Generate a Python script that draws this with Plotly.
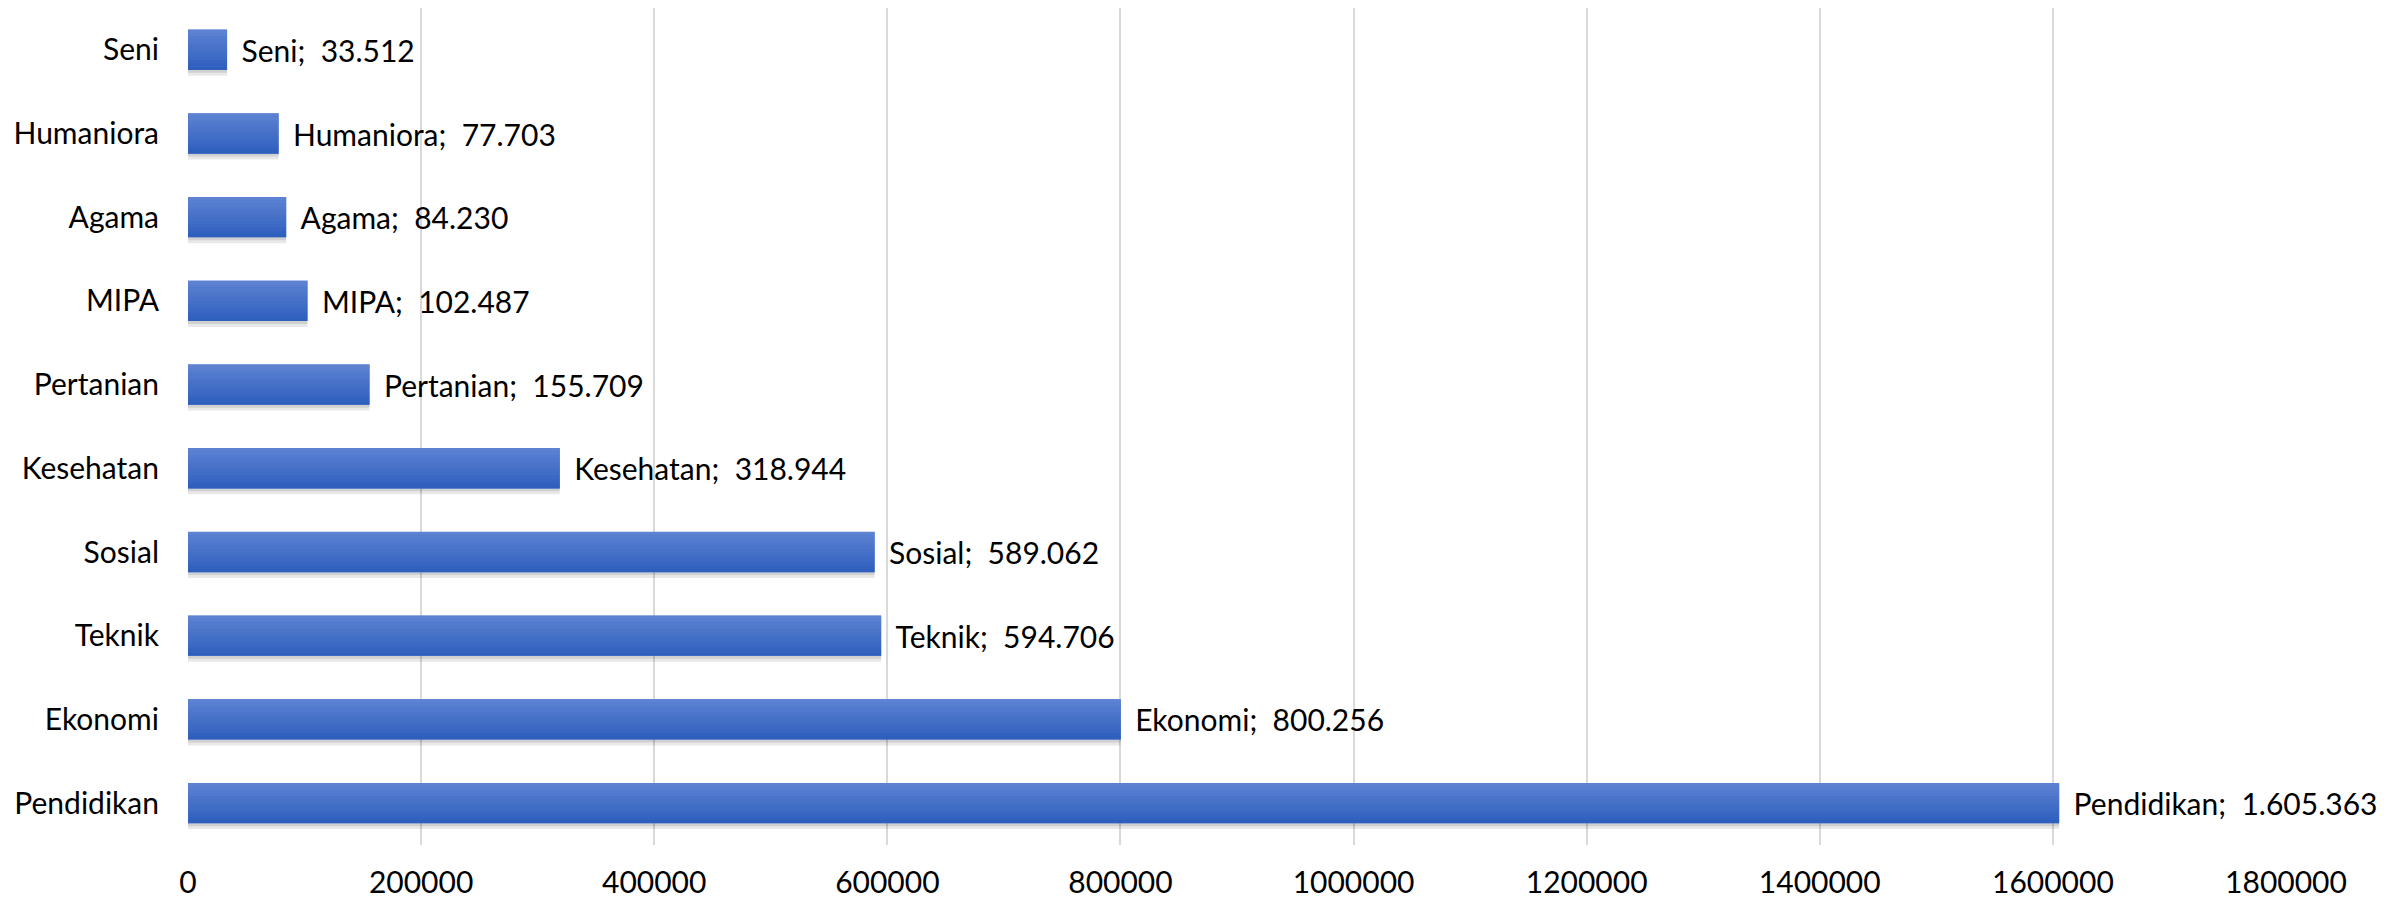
import plotly.graph_objects as go

categories = ["Pendidikan", "Ekonomi", "Teknik", "Sosial", "Kesehatan",
              "Pertanian", "MIPA", "Agama", "Humaniora", "Seni"]
values = [1605363, 800256, 594706, 589062, 318944,
          155709, 102487, 84230, 77703, 33512]
x_ticks = [0, 200000, 400000, 600000, 800000, 1000000,
           1200000, 1400000, 1600000, 1800000]

NB = "\u00a0"
labels = [f"{NB}\u2009{c};{NB}{NB}" + f"{v:,}".replace(",", ".")
          for c, v in zip(categories, values)]

FONT = "Lato"
FS = 30

BAR_W = 0.48
N_STRIPES = 12
TOP = (0x5d, 0x82, 0xd2)
BOT = (0x2e, 0x5f, 0xbd)

fig = go.Figure()

# soft shadow under the bars
fig.add_trace(go.Bar(
    x=values, y=categories, orientation="h",
    width=0.07, offset=-BAR_W / 2 - 0.07,
    marker=dict(color="rgba(0,0,0,0.09)", line=dict(width=0)),
    hoverinfo="skip", showlegend=False,
))
fig.add_trace(go.Bar(
    x=values, y=categories, orientation="h",
    width=0.035, offset=-BAR_W / 2 - 0.035,
    marker=dict(color="rgba(0,0,0,0.10)", line=dict(width=0)),
    hoverinfo="skip", showlegend=False,
))

# base bar carrying the data labels
fig.add_trace(go.Bar(
    x=values, y=categories, orientation="h",
    width=BAR_W, offset=-BAR_W / 2,
    marker=dict(color="#4171cb", line=dict(width=0)),
    text=labels, textposition="outside",
    textfont=dict(family=FONT, size=FS, color="#000000"),
    cliponaxis=False, hoverinfo="skip", showlegend=False,
))

# vertical gradient stripes
sw = BAR_W / N_STRIPES
for i in range(N_STRIPES):
    t = i / (N_STRIPES - 1)  # 0 = bottom, 1 = top
    r, g, b = [round(BOT[k] + (TOP[k] - BOT[k]) * t) for k in range(3)]
    fig.add_trace(go.Bar(
        x=values, y=categories, orientation="h",
        width=sw * 1.05, offset=-BAR_W / 2 + i * sw,
        marker=dict(color=f"rgb({r},{g},{b})", line=dict(width=0)),
        hoverinfo="skip", showlegend=False,
    ))

# page body has an 8px default margin, so the figure is sized to fit
fig.update_layout(
    width=2384,
    height=894,
    margin=dict(l=180, r=106, t=0, b=57),
    paper_bgcolor="white",
    plot_bgcolor="white",
    barmode="overlay",
    showlegend=False,
    font=dict(family=FONT, size=FS, color="#000000"),
)

fig.update_xaxes(
    range=[0, 1800000],
    tickvals=x_ticks,
    ticktext=[str(t) for t in x_ticks],
    showgrid=True,
    gridcolor="#d9d9d9",
    gridwidth=2,
    zeroline=False,
    showline=False,
    ticks="",
    ticklabelstandoff=17,
    automargin=False,
    tickfont=dict(family=FONT, size=FS, color="#000000"),
)

fig.update_yaxes(
    categoryorder="array",
    categoryarray=categories,
    showgrid=False,
    zeroline=False,
    showline=False,
    ticks="",
    ticklabelstandoff=28,
    automargin=False,
    tickfont=dict(family=FONT, size=FS, color="#000000"),
)

fig.write_html("out.html")
